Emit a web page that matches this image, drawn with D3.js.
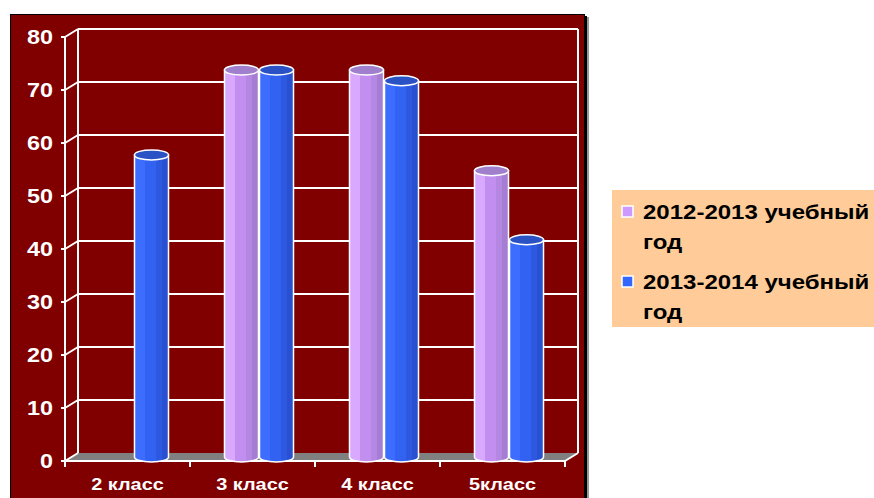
<!DOCTYPE html>
<html>
<head>
<meta charset="utf-8">
<script src="https://cdn.jsdelivr.net/npm/d3@7"></script>
<style>
  body { margin: 0; background: #fff; }
  svg { display: block; font-family: "Liberation Sans", Arial, sans-serif; }
</style>
</head>
<body>
<svg id="chart" width="874" height="498"></svg>
<script>
// data
const categories = ['2 класс', '3 класс', '4 класс', '5класс']
const seriesNames = ['2012-2013 учебный год', '2013-2014 учебный год']
const values2012 = [null, 73, 73, 54]
const values2014 = [57, 73, 71, 41]
const yTicks = [0, 10, 20, 30, 40, 50, 60, 70, 80]

const series = [
    {name: seriesNames[0], values: values2012, swatch: '#cc99ff', light: '#d9a9ff', mid: '#c28ff0', dark: '#a57ed3', top: '#a07fcc', key: 'lav'},
    {name: seriesNames[1], values: values2014, swatch: '#3366ff', light: '#3d6dff', mid: '#3162f2', dark: '#2850d0', top: '#2a52c4', key: 'blu'}
]

const svg = d3.select('#chart')
const depth = {dx: 13, dy: -8}
// the original text renders a bit wider than Liberation Sans
function widen(stretch) {
    return sel => sel.each(function() {
        const len = this.getComputedTextLength()
        d3.select(this).attr('textLength', len * stretch).attr('lengthAdjust', 'spacingAndGlyphs')
    })
}

// panel
svg.append('rect').attr('x', 587).attr('y', 17).attr('width', 2).attr('height', 490).attr('fill', '#999')
svg.append('rect').attr('x', 584).attr('y', 16).attr('width', 3).attr('height', 490).attr('fill', '#000')
svg.append('rect')
    .attr('x', 10.5).attr('y', 14.5).attr('width', 574).attr('height', 500)
    .attr('fill', '#800000').attr('stroke', '#000').attr('stroke-width', 1)

const x = d3.scaleBand().domain(categories).range([65, 565])
const y = d3.scaleLinear().domain([0, 80]).range([461, 37])
const inner = d3.scaleBand().domain(seriesNames).range([-35, 35])

// gradients
const defs = svg.append('defs')
series.forEach(s => {
    const g = defs.append('linearGradient').attr('id', 'grad-' + s.key)
    const md = d3.interpolateRgb(s.mid, s.dark)(0.5)
    const stops = [[0, s.light], [0.3, s.light], [0.3, s.mid], [0.62, s.mid], [0.62, md], [0.8, md], [0.8, s.dark], [1, s.dark]]
    g.selectAll('stop').data(stops).join('stop')
        .attr('offset', d => d[0]).attr('stop-color', d => d[1])
})

// floor
const y0 = y(0)
svg.append('polygon')
    .attr('points', [[65, y0], [65 + depth.dx, y0 + depth.dy], [565 + depth.dx, y0 + depth.dy], [565, y0]].join(' '))
    .attr('fill', '#808080')

const grid = svg.append('g').attr('stroke', '#fff').attr('stroke-width', 2).attr('fill', 'none')

// back wall gridlines
grid.selectAll('line.back').data(yTicks.slice(1)).join('line')
    .attr('class', 'back')
    .attr('x1', 65 + depth.dx).attr('x2', 565 + depth.dx)
    .attr('y1', d => y(d) + depth.dy).attr('y2', d => y(d) + depth.dy)

// side wall gridlines
grid.selectAll('line.side').data(yTicks).join('line')
    .attr('class', 'side')
    .attr('x1', 65).attr('x2', 65 + depth.dx)
    .attr('y1', d => y(d)).attr('y2', d => y(d) + depth.dy)

// verticals
grid.append('line').attr('x1', 65).attr('x2', 65).attr('y1', y(0)).attr('y2', y(80))
grid.append('line').attr('x1', 65 + depth.dx).attr('x2', 65 + depth.dx).attr('y1', y(0) + depth.dy).attr('y2', y(80) + depth.dy)
grid.append('line').attr('x1', 565 + depth.dx).attr('x2', 565 + depth.dx).attr('y1', y(0) + depth.dy).attr('y2', y(80) + depth.dy)
grid.append('line').attr('x1', 565).attr('x2', 565 + depth.dx).attr('y1', y(0)).attr('y2', y(0) + depth.dy)

// front axis + ticks
grid.append('line').attr('x1', 65).attr('x2', 565).attr('y1', y0).attr('y2', y0)
grid.selectAll('line.ytick').data(yTicks).join('line')
    .attr('class', 'ytick')
    .attr('x1', 61).attr('x2', 65).attr('y1', d => y(d)).attr('y2', d => y(d))
const xEdges = categories.map(c => x(c)).concat([565])
grid.selectAll('line.xtick').data(xEdges).join('line')
    .attr('class', 'xtick')
    .attr('x1', d => d).attr('x2', d => d).attr('y1', y0).attr('y2', y0 + 6)

// bars (cylinders)
const ry = 5
const bars = []
series.forEach(s => {
    s.values.forEach((v, i) => {
        if (v == null) return
        const cx = x(categories[i]) + x.bandwidth() / 2 + depth.dx / 2
        const left = cx + inner(s.name) + 0.5
        const w = inner.bandwidth() - 1
        bars.push({s, v, left, w})
    })
})

const barG = svg.append('g')
bars.forEach(b => {
    const topY = y(b.v) + depth.dy / 2
    const botY = y(0) + depth.dy / 2
    const rx = b.w / 2
    const g = barG.append('g')
    g.append('path')
        .attr('d', `M${b.left},${topY} L${b.left},${botY} A${rx},${ry} 0 0 0 ${b.left + b.w},${botY} L${b.left + b.w},${topY} Z`)
        .attr('fill', `url(#grad-${b.s.key})`)
        .attr('stroke', '#fff').attr('stroke-width', 1.5)
    g.append('ellipse')
        .attr('cx', b.left + rx).attr('cy', topY).attr('rx', rx).attr('ry', ry)
        .attr('fill', b.s.top)
        .attr('stroke', '#fff').attr('stroke-width', 1.5)
})

// y labels
svg.append('g').selectAll('text').data(yTicks).join('text')
    .attr('x', 53).attr('y', d => y(d))
    .attr('dy', '0.36em')
    .attr('text-anchor', 'end')
    .attr('fill', '#fff').attr('font-weight', 'bold').attr('font-size', 20)
    .text(d => d)
    .call(widen(1.17))

// x labels
svg.append('g').selectAll('text').data(categories).join('text')
    .attr('x', d => x(d) + x.bandwidth() / 2).attr('y', 484)
    .attr('dy', '0.36em')
    .attr('text-anchor', 'middle')
    .attr('fill', '#fff').attr('font-weight', 'bold').attr('font-size', 17)
    .text(d => d)
    .call(widen(1.17))

// legend
const legend = svg.append('g')
legend.append('rect').attr('x', 612).attr('y', 190).attr('width', 270).attr('height', 137).attr('fill', '#ffcc99')
const legY = [212, 282]
series.forEach((s, i) => {
    legend.append('rect')
        .attr('x', 622).attr('y', legY[i] - 6).attr('width', 11).attr('height', 11)
        .attr('fill', s.swatch)
        .attr('stroke', '#fff').attr('stroke-width', 1.5)
    const parts = s.name.split(' ')
    const lines = [parts[0] + ' ' + parts[1], parts[2]]
    legend.selectAll('text.l' + i).data(lines).join('text')
        .attr('class', 'l' + i)
        .attr('x', 643).attr('y', (d, j) => legY[i] + j * 30)
        .attr('dy', '0.36em')
        .attr('fill', '#000').attr('font-weight', 'bold').attr('font-size', 20)
        .text(d => d)
        .call(widen(1.2))
})
</script>
</body>
</html>
